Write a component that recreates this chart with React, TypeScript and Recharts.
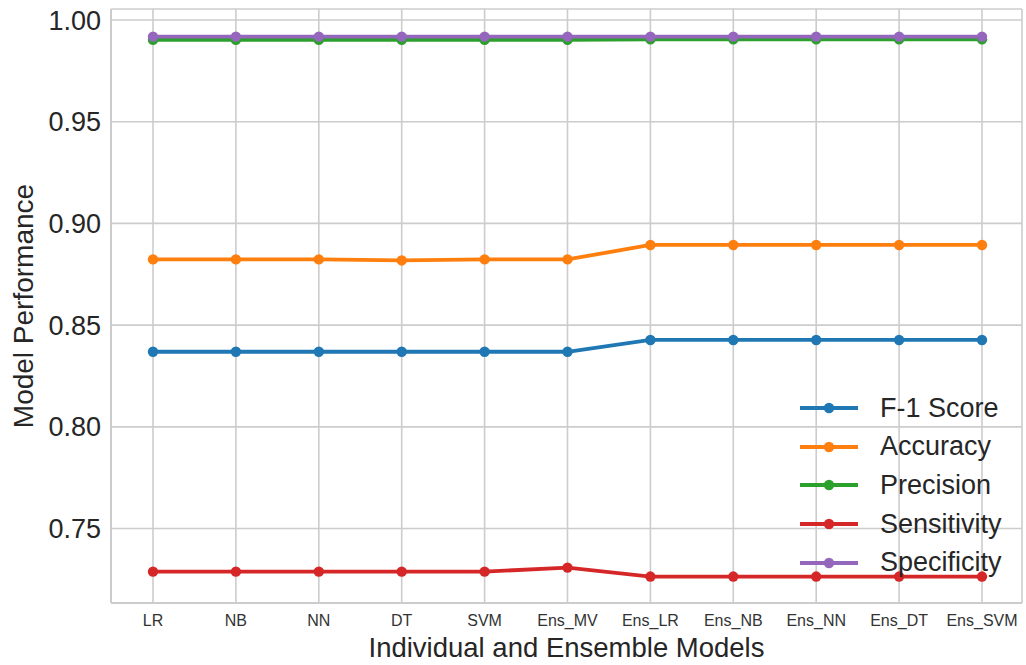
import { LineChart, Line, XAxis, YAxis, CartesianGrid, Legend } from 'recharts';

const models = ['LR', 'NB', 'NN', 'DT', 'SVM', 'Ens_MV', 'Ens_LR', 'Ens_NB', 'Ens_NN', 'Ens_DT', 'Ens_SVM'];

const f1Score = [0.8369, 0.8369, 0.8369, 0.8369, 0.8369, 0.8369, 0.8427, 0.8427, 0.8427, 0.8427, 0.8427];
const accuracy = [0.8823, 0.8823, 0.8823, 0.8818, 0.8823, 0.8823, 0.8894, 0.8894, 0.8894, 0.8894, 0.8894];
const precision = [0.9902, 0.9902, 0.9902, 0.9902, 0.9902, 0.9902, 0.9905, 0.9905, 0.9905, 0.9905, 0.9905];
const sensitivity = [0.7288, 0.7288, 0.7288, 0.7288, 0.7288, 0.7308, 0.7264, 0.7264, 0.7264, 0.7264, 0.7264];
const specificity = [0.9918, 0.9918, 0.9918, 0.9918, 0.9918, 0.9918, 0.9918, 0.9918, 0.9918, 0.9918, 0.9918];

const yTicks = [0.75, 0.8, 0.85, 0.9, 0.95, 1.0];

const series = [
  { key: 'F-1 Score', color: '#1f77b4' },
  { key: 'Accuracy', color: '#ff7f0e' },
  { key: 'Precision', color: '#2ca02c' },
  { key: 'Sensitivity', color: '#d62728' },
  { key: 'Specificity', color: '#9467bd' },
];

const FONT = '"Liberation Sans", Arial, Helvetica, sans-serif';
const GRID = '#cccccc';

const chartData = models.map((name, i) => ({
  name,
  'F-1 Score': f1Score[i],
  Accuracy: accuracy[i],
  Precision: precision[i],
  Sensitivity: sensitivity[i],
  Specificity: specificity[i],
}));

// matplotlib-style legend: short line with a marker, no frame
const LegendContent = () => (
  <div style={{ fontFamily: FONT }}>
    {series.map((s) => (
      <div key={s.key} style={{ display: 'flex', alignItems: 'center', height: 38.6 }}>
        <svg width={58} height={14} style={{ overflow: 'visible' }}>
          <line x1={0} y1={7} x2={58} y2={7} stroke={s.color} strokeWidth={3.8} />
          <circle cx={29} cy={7} r={5.2} fill={s.color} />
        </svg>
        <span style={{ marginLeft: 22, fontSize: 27, color: '#262626', lineHeight: 1 }}>{s.key}</span>
      </div>
    ))}
  </div>
);

export default function App() {
  return (
    <div style={{ position: 'absolute', left: 0, top: 0, width: 1026, height: 665, background: '#fff' }}>
      <LineChart
        width={1026}
        height={665}
        data={chartData}
        margin={{ top: 9, right: 4, left: 0, bottom: 0 }}
        style={{ fontFamily: FONT }}
      >
        <CartesianGrid stroke={GRID} strokeWidth={1.6} />
        <XAxis
          dataKey="name"
          padding={{ left: 42, right: 40 }}
          height={62}
          tickLine={false}
          tickSize={0}
          tickMargin={12}
          axisLine={{ stroke: GRID, strokeWidth: 2 }}
          tick={{ fontSize: 16, fill: '#333333', fontFamily: FONT }}
          interval={0}
          label={{
            value: 'Individual and Ensemble Models',
            position: 'insideBottom',
            offset: 8,
            style: { fontSize: 27.5, fill: '#262626', fontFamily: FONT },
          }}
        />
        <XAxis
          xAxisId="top"
          dataKey="name"
          orientation="top"
          height={0}
          tick={false}
          tickLine={false}
          axisLine={{ stroke: GRID, strokeWidth: 2 }}
        />
        <YAxis
          domain={[0.7134, 1.0054]}
          ticks={yTicks}
          width={111}
          tickLine={false}
          tickSize={0}
          tickMargin={10}
          tickFormatter={(v: number) => v.toFixed(2)}
          axisLine={{ stroke: GRID, strokeWidth: 2 }}
          tick={{ fontSize: 27, fill: '#262626', fontFamily: FONT }}
          label={{
            value: 'Model Performance',
            angle: -90,
            position: 'insideLeft',
            offset: 23,
            style: { textAnchor: 'middle', fontSize: 28, fill: '#262626', fontFamily: FONT },
          }}
        />
        <YAxis
          yAxisId="right"
          orientation="right"
          width={0}
          tick={false}
          tickLine={false}
          axisLine={{ stroke: GRID, strokeWidth: 2 }}
        />
        {series.map((s) => (
          <Line
            key={s.key}
            dataKey={s.key}
            stroke={s.color}
            strokeWidth={3.8}
            dot={{ r: 5.2, fill: s.color, stroke: s.color, strokeWidth: 0 }}
            activeDot={false}
            isAnimationActive={false}
          />
        ))}
        {/* horizontal + middle + center keeps the legend from reserving plot space */}
        <Legend
          layout="horizontal"
          verticalAlign="middle"
          align="center"
          content={<LegendContent />}
          wrapperStyle={{ position: 'absolute', left: 800, top: 389, width: 226, bottom: 'auto', right: 'auto' }}
        />
      </LineChart>
    </div>
  );
}
